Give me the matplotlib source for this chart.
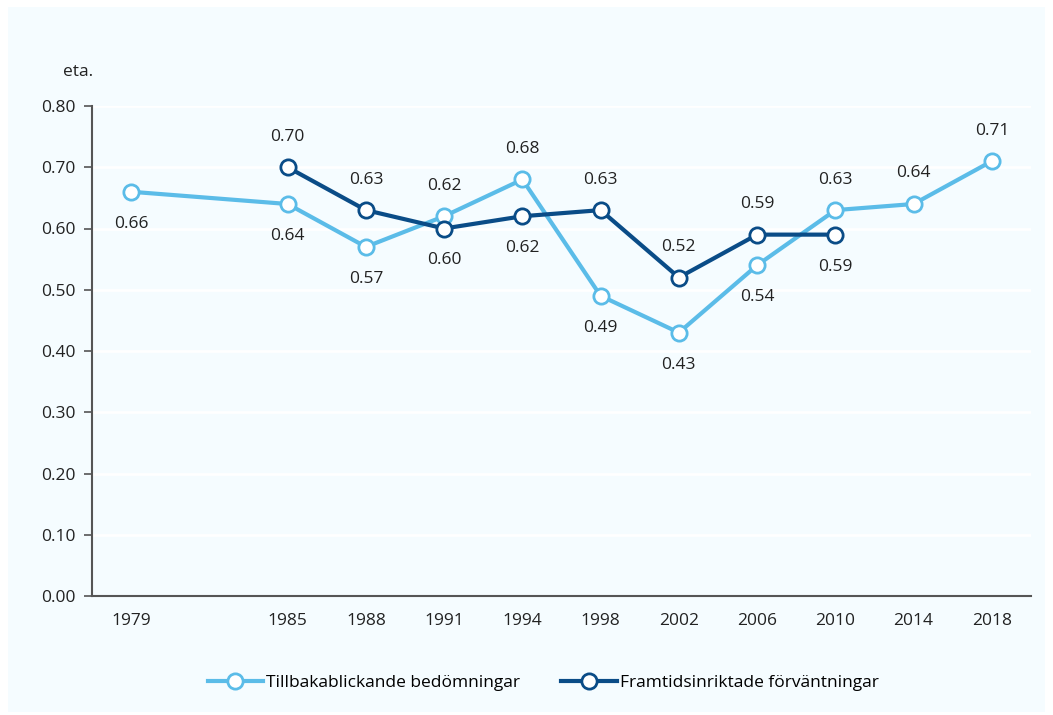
import matplotlib
matplotlib.use('Agg')
import matplotlib.pyplot as plt
from matplotlib.patches import Rectangle

plt.rcParams['font.family'] = ['Open Sans', 'DejaVu Sans']

# data
years = ['1979', '1985', '1988', '1991', '1994', '1998', '2002', '2006', '2010', '2014', '2018']
positions = [0, 2, 3, 4, 5, 6, 7, 8, 9, 10, 11]
retro = [0.66, 0.64, 0.57, 0.62, 0.68, 0.49, 0.43, 0.54, 0.63, 0.64, 0.71]
retro_above = [False, False, False, True, True, False, False, False, True, True, True]
prosp_pos = [2, 3, 4, 5, 6, 7, 8, 9]
prosp = [0.70, 0.63, 0.60, 0.62, 0.63, 0.52, 0.59, 0.59]
prosp_above = [True, True, False, False, True, True, True, False]

light = '#5BBCE8'
dark = '#0A4C87'
panel = '#F5FCFF'

fig = plt.figure(figsize=(10.53, 7.15), dpi=100, facecolor='white')
fig.patches.append(Rectangle((8 / 1053, 3 / 715), 1037 / 1053, 705 / 715,
                             transform=fig.transFigure, facecolor=panel,
                             edgecolor='none', zorder=-10))
ax = fig.add_axes([92 / 1053, 1 - 596 / 715, (1031 - 92) / 1053, (596 - 106) / 715])
ax.set_facecolor(panel)

ax.plot(positions, retro, color=light, linewidth=3, marker='o', markersize=11,
        markerfacecolor='white', markeredgecolor=light, markeredgewidth=2,
        label='Tillbakablickande bedömningar', zorder=3, clip_on=False)
ax.plot(prosp_pos, prosp, color=dark, linewidth=3, marker='o', markersize=11,
        markerfacecolor='white', markeredgecolor=dark, markeredgewidth=2,
        label='Framtidsinriktade förväntningar', zorder=4, clip_on=False)

for x, v, up in zip(positions, retro, retro_above):
    ax.annotate(f'{v:.2f}', (x, v), xytext=(0, 22 if up else -23), textcoords='offset points',
                ha='center', va='center', fontsize=12.5, color='#222222')
for x, v, up in zip(prosp_pos, prosp, prosp_above):
    ax.annotate(f'{v:.2f}', (x, v), xytext=(0, 22 if up else -23), textcoords='offset points',
                ha='center', va='center', fontsize=12.5, color='#222222')

ax.set_xlim(-0.5, 11.5)
ax.set_ylim(0, 0.8)
ax.set_yticks([i / 10 for i in range(9)])
ax.set_yticklabels([f'{i / 10:.2f}' for i in range(9)])
ax.set_xticks(positions)
ax.set_xticklabels(years)
ax.tick_params(axis='y', length=6, width=1.2, color='#555555', labelsize=12.5, pad=6, labelcolor='#222222')
ax.tick_params(axis='x', length=0, labelsize=12.5, pad=12, labelcolor='#222222')
ax.grid(axis='y', color='white', linewidth=2)
ax.set_axisbelow(True)
for s in ['top', 'right']:
    ax.spines[s].set_visible(False)
for s in ['left', 'bottom']:
    ax.spines[s].set_color('#555555')
    ax.spines[s].set_linewidth(1.5)

fig.text(78 / 1053, 1 - 72 / 715, 'eta.', fontsize=12.5, ha='center', va='center', color='#222222')

fig.legend(loc='center', bbox_to_anchor=(543 / 1053, 1 - 683 / 715), ncol=2, frameon=False,
           fontsize=12.5, handlelength=3.2, columnspacing=2.4, handletextpad=0.15)

fig.savefig('out.png', dpi=100, facecolor='white')
